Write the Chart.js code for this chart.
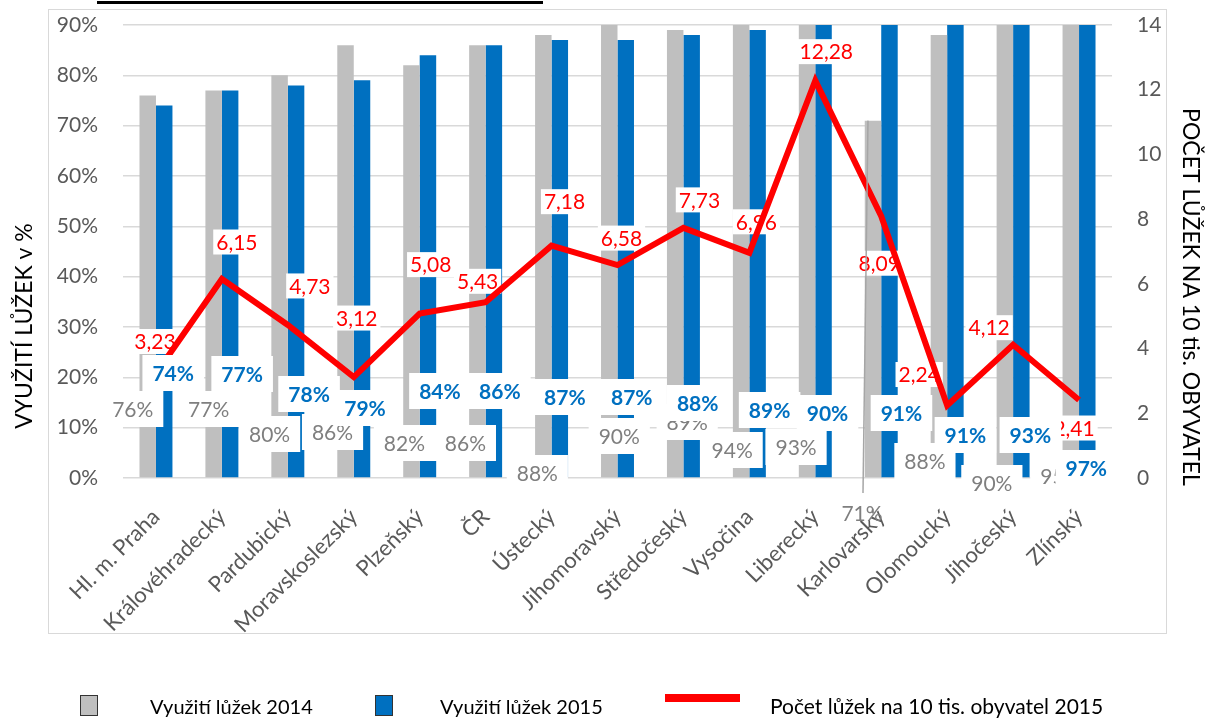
<!DOCTYPE html>
<html>
<head>
<meta charset="utf-8">
<script src="https://cdn.jsdelivr.net/npm/chart.js@4.4.1/dist/chart.umd.min.js"></script>
<style>
  body { margin: 0; background: #fff; font-family: Lato, sans-serif; }
  #wrap { position: relative; width: 1215px; height: 720px; overflow: hidden; }
  #frame { position: absolute; left: 48px; top: 9px; width: 1117px; height: 623px; border: 1.5px solid #d9d9d9; }
  #topline { position: absolute; left: 97px; top: 1px; width: 446px; height: 3px; background: #000; }
  canvas { position: absolute; left: 0; top: 0; }
  .key { position: absolute; top: 695px; width: 16px; height: 19px; border: 1px solid #333; }
  .keyline { position: absolute; left: 665px; top: 694px; width: 75px; height: 8px; background: #ff0000; }
  .ktxt { position: absolute; top: 694px; font-size: 20px; color: #000; white-space: nowrap; }
</style>
</head>
<body>
<div id="wrap">
  <div id="frame"></div>
  <div id="topline"></div>
  <canvas id="chart_beds" width="1215" height="720"></canvas>
  <div class="key" style="left:80px;background:#bfbfbf"></div>
  <div class="ktxt" style="left:150px">Využití lůžek 2014</div>
  <div class="key" style="left:375px;background:#0070c0"></div>
  <div class="ktxt" style="left:440px">Využití lůžek 2015</div>
  <div class="keyline"></div>
  <div class="ktxt" style="left:770px;font-size:21px;top:693px">Počet lůžek na 10 tis. obyvatel 2015</div>
</div>
<script>
const regions = ['Hl. m. Praha', 'Královéhradecký', 'Pardubický', 'Moravskoslezský', 'Plzeňský', 'ČR',
  'Ústecký', 'Jihomoravský', 'Středočeský', 'Vysočina', 'Liberecký', 'Karlovarský', 'Olomoucký',
  'Jihočeský', 'Zlínský'];
const use2014 = [76, 77, 80, 86, 82, 86, 88, 90, 89, 94, 93, 71, 88, 90, 95];
const use2015 = [74, 77, 78, 79, 84, 86, 87, 87, 88, 89, 90, 91, 91, 93, 97];
const beds2015 = [3.23, 6.15, 4.73, 3.12, 5.08, 5.43, 7.18, 6.58, 7.73, 6.96, 12.28, 8.09, 2.24, 4.12, 2.41];
const pctMax = 90;
const bedsMax = 14;

// where the hand-placed labels sit, in px from the bar foot / line point
const grayShift = [[-15,-69],[-5,-69],[-10,-44],[-13,-46],[-7,-35],[-12,-35],[-6,-5],[10,-42],
  [12,-56],[-9,-28],[-11,-31],[-11,35],[-14,-17],[-13,5],[-10,-2]];
const blueShift = [[9,-105],[12,-104],[13,-84],[3,-70],[12,-87],[6,-87],[5,-81],[6,-81],
  [6,-75],[12,-68],[4,-65],[12,-65],[10,-43],[9,-43],[-1,-10]];
const redShift = [[-1,-32],[15,-37],[22,-39],[3,-59],[11,-49],[-8,-21],[13,-44],[4,-27],
  [16,-28],[7,-31],[11,-29],[-2,47],[-28,-31],[-24,-17],[-5,28]];

const labelStyle = [
  { shift: grayShift, color: '#7f7f7f', font: '21px Lato', padX: 10, boxH: 36, fmt: v => v + '%' },
  { shift: blueShift, color: '#0070c0', font: 'bold 21px Lato', padX: 10, boxH: 36, fmt: v => v + '%' },
  { shift: redShift, color: '#ff0000', font: '21px Lato', padX: 3, boxH: 25, fmt: v => v.toFixed(2).replace('.', ',') }
];

// axis titles sit off-centre in the original, so they are drawn by hand
const axisTitles = [
  { text: 'VYUŽITÍ LŮŽEK v %', x: 25, y: 326, rot: -Math.PI / 2 },
  { text: 'POČET LŮŽEK NA 10 tis. OBYVATEL', x: 1190, y: 297, rot: Math.PI / 2 }
];

const drawLabels = (chart, di) => {
  const ctx = chart.ctx;
  const st = labelStyle[di];
  const meta = chart.getDatasetMeta(di);
  const foot = chart.scales.yPct.getPixelForValue(0);
  const vals = chart.data.datasets[di].data;
  ctx.save();
  ctx.font = st.font;
  ctx.textAlign = 'center';
  ctx.textBaseline = 'middle';
  meta.data.forEach((el, i) => {
    const ax = el.x;
    const ay = di === 2 ? el.y : foot;
    const x = ax + st.shift[i][0];
    const y = ay + st.shift[i][1];
    const txt = st.fmt(vals[i]);
    const w = ctx.measureText(txt).width + 2 * st.padX;
    const dragged = di === 0 && i === 11;
    if (dragged) {
      // leader line of the Karlovarský label that was pulled below the axis
      ctx.strokeStyle = '#a6a6a6';
      ctx.lineWidth = 1.5;
      ctx.beginPath();
      ctx.moveTo(x + 1, y - 20);
      ctx.lineTo(el.x - 5, chart.scales.yPct.getPixelForValue(vals[i]));
      ctx.stroke();
    } else {
      ctx.fillStyle = '#fff';
      ctx.fillRect(x - w / 2, y - st.boxH / 2, w, st.boxH);
    }
    ctx.fillStyle = st.color;
    ctx.fillText(txt, x, y + 1);
  });
  ctx.restore();
};

const boxLabels = {
  id: 'boxLabels',
  beforeDatasetDraw(chart, args) {
    if (args.index === 2) drawLabels(chart, 2);
  },
  afterDatasetsDraw(chart) {
    drawLabels(chart, 0);
    drawLabels(chart, 1);
  },
  afterDraw(chart) {
    const ctx = chart.ctx;
    axisTitles.forEach(t => {
      ctx.save();
      ctx.translate(t.x, t.y);
      ctx.rotate(t.rot);
      ctx.font = '23px Lato';
      ctx.fillStyle = '#000';
      ctx.textAlign = 'center';
      ctx.textBaseline = 'middle';
      ctx.fillText(t.text, 0, 0);
      ctx.restore();
    });
  }
};

// tick padding would otherwise also push the plot down from the top
const trimPad = s => { s.paddingTop = 12; s.paddingBottom = 0; };

Chart.defaults.font.family = 'Lato';
Chart.defaults.color = '#595959';

new Chart(document.getElementById('chart_beds'), {
  type: 'bar',
  data: {
    labels: regions,
    datasets: [{
      label: 'Využití lůžek 2014',
      data: use2014,
      backgroundColor: '#bfbfbf',
      yAxisID: 'yPct',
      order: 2
    }, {
      label: 'Využití lůžek 2015',
      data: use2015,
      backgroundColor: '#0070c0',
      yAxisID: 'yPct',
      order: 2
    }, {
      type: 'line',
      label: 'Počet lůžek na 10 tis. obyvatel 2015',
      data: beds2015,
      borderColor: '#ff0000',
      borderWidth: 6,
      pointRadius: 0,
      tension: 0,
      yAxisID: 'yBeds',
      order: 1
    }]
  },
  plugins: [boxLabels],
  options: {
    responsive: false,
    animation: false,
    layout: { padding: { top: 25, left: 0, right: 0, bottom: 0 } },
    datasets: { bar: { barPercentage: 1, categoryPercentage: 0.5 } },
    plugins: { legend: { display: false }, tooltip: { enabled: false } },
    scales: {
      x: {
        grid: { display: false },
        border: { display: false },
        ticks: { font: { size: 22 }, minRotation: 45, maxRotation: 45, padding: 18, autoSkip: false },
        afterFit: s => { s.height = 242; }
      },
      yPct: {
        position: 'left',
        min: 0,
        max: pctMax,
        ticks: { stepSize: 10, font: { size: 21 }, padding: 25, callback: v => v + '%' },
        grid: { color: '#d9d9d9', lineWidth: 1.5, drawTicks: false },
        border: { display: false },
        afterFit: s => { s.width = 123; trimPad(s); }
      },
      yBeds: {
        position: 'right',
        min: 0,
        max: bedsMax,
        ticks: { stepSize: 2, font: { size: 21 }, padding: 25 },
        grid: { display: false, drawTicks: false },
        border: { display: false },
        afterFit: s => { s.width = 103; trimPad(s); }
      }
    }
  }
});
</script>
</body>
</html>
